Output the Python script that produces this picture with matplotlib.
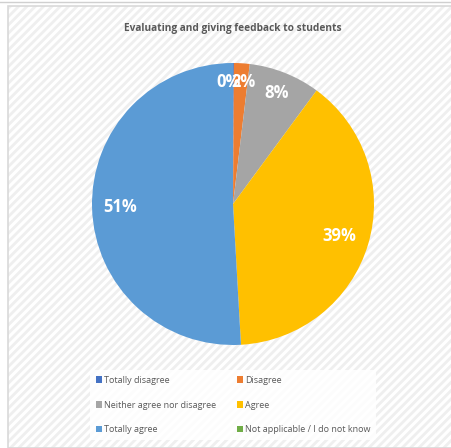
import matplotlib
matplotlib.use("Agg")
import matplotlib.pyplot as plt
from matplotlib.patches import Rectangle
import numpy as np

categories = ["Totally disagree", "Disagree", "Neither agree nor disagree", "Agree",
              "Totally agree", "Not applicable / I do not know"]
values = [0.1, 1.8, 8.2, 39.0, 50.9, 0.0]
labels = ["0%", "2%", "8%", "39%", "51%", ""]
colors = ["#4472C4", "#ED7D31", "#A5A5A5", "#FFC000", "#5B9BD5", "#70AD47"]

W, H = 452, 448
plt.rcParams["hatch.color"] = "#efefef"
plt.rcParams["hatch.linewidth"] = 2.0
fig = plt.figure(figsize=(W / 100, H / 100), dpi=100)
fig.patch.set_facecolor("white")

# hatched chart background
bg = Rectangle((8 / W, 0), 1 - 8 / W, 1 - 6 / H, transform=fig.transFigure,
               facecolor="white", edgecolor="#efefef", hatch="////", lw=0, zorder=0)
fig.patches.append(bg)
frame = Rectangle((8 / W, 0), 1 - 8 / W, 1 - 6 / H, transform=fig.transFigure,
                  facecolor="none", edgecolor="#d9d9d9", lw=1.2, zorder=1)
fig.patches.append(frame)
fig.add_artist(plt.Line2D([0, 1], [1 - 2 / H, 1 - 2 / H], transform=fig.transFigure,
                          color="#d0d0d0", lw=1))

cx, cy, r = 233, 204, 141
ax = fig.add_axes([(cx - r) / W, 1 - (cy + r) / H, 2 * r / W, 2 * r / H])
ax.set_zorder(5)
ax.set_facecolor("none")
wedges, _ = ax.pie(values, colors=colors, startangle=90, counterclock=False,
                   radius=1.0, wedgeprops=dict(linewidth=0))
ax.set_xlim(-1, 1)
ax.set_ylim(-1, 1)
ax.set_aspect("equal")
ax.axis("off")

label_r = [0.865, 0.865, 0.85, 0.79, 0.80, 0.8]
for w, lab, lr in zip(wedges, labels, label_r):
    if not lab:
        continue
    ang = np.deg2rad((w.theta1 + w.theta2) / 2)
    x, y = lr * np.cos(ang), lr * np.sin(ang)
    if lab == "0%":
        x -= 0.035
    if lab == "2%":
        x += 0.02
    ax.text(x, y, lab, color="white", fontsize=12, fontweight="bold",
            ha="center", va="center", family="Open Sans")

fig.text(233 / W, 1 - 29 / H, "Evaluating and giving feedback to students",
         ha="center", va="center", fontsize=7.3, fontweight="bold", color="#595959",
         family="Open Sans", zorder=6)

order = [0, 2, 4, 1, 3, 5]
handles = [Rectangle((0, 0), 1, 1, facecolor=colors[i], edgecolor="none") for i in order]
leg = fig.legend(handles, [categories[i] for i in order], ncol=2, loc="center",
                 bbox_to_anchor=(233 / W, 1 - 405 / H), frameon=True,
                 facecolor="white", edgecolor="none", framealpha=0.85,
                 fontsize=6.5, handlelength=0.7, handleheight=0.7,
                 handletextpad=0.2, columnspacing=2.3, labelspacing=1.75,
                 borderpad=0.6)
leg.set_zorder(6)
for t in leg.get_texts():
    t.set_color("#595959")
    t.set_family("Open Sans")
leg.get_frame().set_linewidth(0)

fig.savefig("out.png", dpi=100)
